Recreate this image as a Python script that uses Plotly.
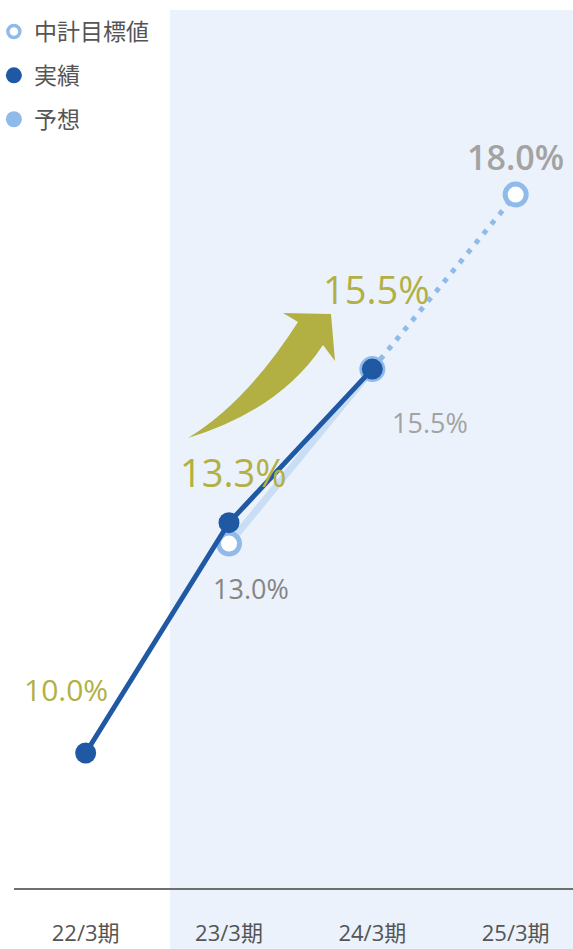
import plotly.graph_objects as go

# ---- data -------------------------------------------------------------
categories = ["22/3期", "23/3期", "24/3期", "25/3期"]
target = [None, 13.0, 15.5, 18.0]      # 中計目標値
actual = [10.0, 13.3, 15.5, None]      # 実績
forecast = [None, None, 15.5, 18.0]    # 予想

# ---- styling ----------------------------------------------------------
W, H = 573, 949
M_L, M_R, M_T, M_B = 14, 0, 0, 61
PW, PH = W - M_L - M_R, H - M_T - M_B

DARK = "#1f58a3"
RING = "#8fbae9"
PALE = "#c9ddf4"
SHADE = "#ebf2fb"
OLIVE = "#b2b043"
GREY_D = "#858585"
GREY_L = "#a3a3a3"
FONT = "Open Sans, Noto Sans CJK JP, sans-serif"
CJK = "Noto Sans CJK JP, sans-serif"


def px(x):
    return (x - M_L) / PW


def py(y):
    return (M_T + PH - y) / PH


fig = go.Figure()

# pale target line (23/3 -> 24/3)
fig.add_trace(go.Scatter(
    x=categories[:3], y=target[:3], mode="lines",
    line=dict(color=PALE, width=7), showlegend=False, hoverinfo="skip"))

# forecast dotted line
fig.add_trace(go.Scatter(
    x=categories, y=forecast, mode="lines",
    line=dict(color=RING, width=5, dash="5px,7.5px"),
    showlegend=False, hoverinfo="skip"))

# target markers
fig.add_trace(go.Scatter(
    x=categories, y=target, mode="markers",
    marker=dict(size=21, color="white", line=dict(color=RING, width=5)),
    showlegend=False))

# actual
fig.add_trace(go.Scatter(
    x=categories, y=actual, mode="lines+markers",
    line=dict(color=DARK, width=5),
    marker=dict(size=21, color=DARK), showlegend=False))

# legend entries
fig.add_trace(go.Scatter(
    x=[None], y=[None], mode="markers", name="中計目標値", legendgroup="a",
    marker=dict(size=12, color="white", line=dict(color=RING, width=3.5))))
fig.add_trace(go.Scatter(
    x=[None], y=[None], mode="markers", name="実績", legendgroup="b",
    marker=dict(size=16, color=DARK)))
fig.add_trace(go.Scatter(
    x=[None], y=[None], mode="markers", name="予想", legendgroup="c",
    marker=dict(size=16, color=RING)))

# value labels
labels = [
    # (category, value, colour, size, weight, xshift, yshift)
    (categories[0], actual[0], OLIVE, 30, 400, -20, 64),
    (categories[1], actual[1], OLIVE, 38, 500, 4, 51),
    (categories[2], actual[2], OLIVE, 38, 500, 4, 80),
    (categories[1], target[1], GREY_D, 27, 400, 22, -45),
    (categories[2], target[2], GREY_L, 27, 400, 58, -53),
    (categories[3], target[3], GREY_L, 34, 600, 0, 38),
]
for cat, val, col, size, weight, dx, dy in labels:
    fig.add_annotation(
        x=cat, y=val, text=f"{val:.1f}%", showarrow=False,
        xshift=dx, yshift=dy,
        font=dict(family=FONT, size=size, color=col, weight=weight))

# curved growth arrow
pts = {
    "T": (188, 438), "cu": (246, 403), "U": (298, 322),
    "B1": (283, 313), "tip": (331, 314), "B2": (335, 361),
    "L": (323, 345), "cl": (280, 410),
}
P = {k: f"{px(v[0]):.5f},{py(v[1]):.5f}" for k, v in pts.items()}
arrow_path = (f"M{P['T']} Q{P['cu']} {P['U']} L{P['B1']} L{P['tip']} "
              f"L{P['B2']} L{P['L']} Q{P['cl']} {P['T']} Z")

fig.update_layout(
    width=W, height=H,
    margin=dict(l=M_L, r=M_R, t=M_T, b=M_B, autoexpand=False),
    paper_bgcolor="white", plot_bgcolor="rgba(0,0,0,0)",
    font=dict(family=FONT, color="#555555"),
    shapes=[
        dict(type="rect", xref="paper", yref="paper",
             x0=px(170), x1=1, y0=py(H), y1=py(10),
             fillcolor=SHADE, line_width=0, layer="below"),
        dict(type="path", xref="paper", yref="paper", path=arrow_path,
             fillcolor=OLIVE, line_width=0, layer="above"),
    ],
    xaxis=dict(
        type="category", range=[-0.5, 3.4], showgrid=False, zeroline=False,
        showline=True, linecolor="#6f6f6f", linewidth=2,
        ticks="outside", ticklen=25, tickcolor="rgba(0,0,0,0)",
        tickfont=dict(family=FONT, size=22, color="#555555"),
        fixedrange=True),
    yaxis=dict(range=[8.066, 20.788], visible=False, fixedrange=True),
    legend=dict(
        x=-0.036, y=py(10), xanchor="left", yanchor="top",
        bgcolor="rgba(0,0,0,0)", tracegroupgap=11,
        font=dict(family=CJK, size=23, color="#555555")),
)

fig.write_html("out.html")
